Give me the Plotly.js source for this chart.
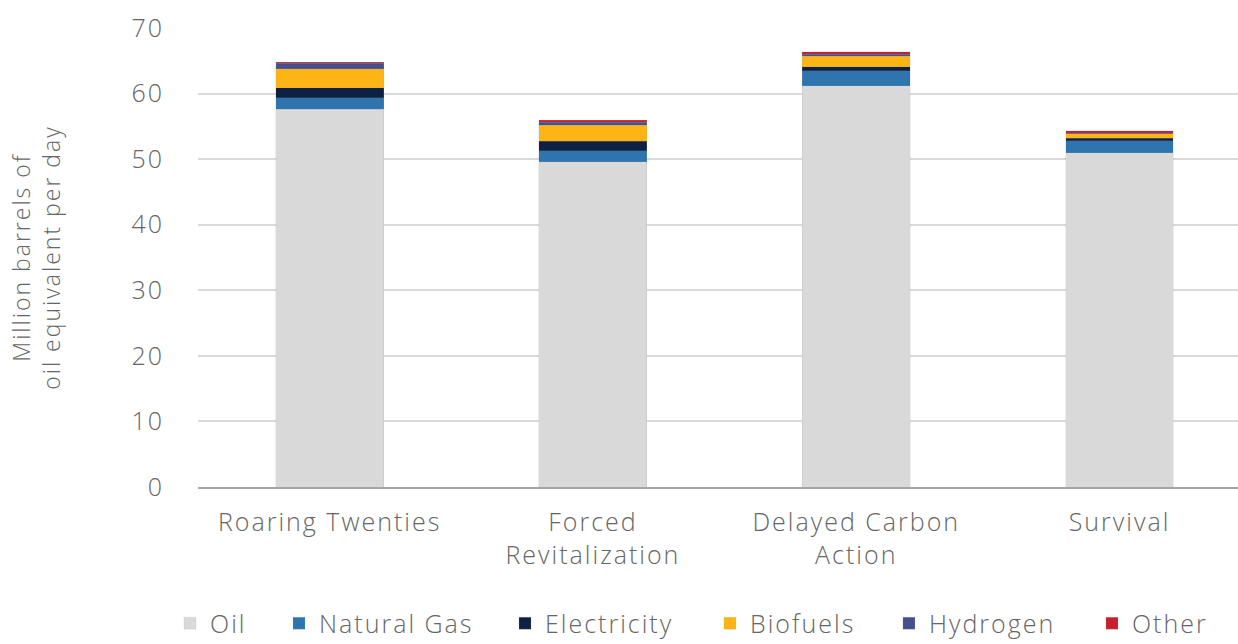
<!DOCTYPE html>
<html>
<head>
<meta charset="utf-8">
<script src="https://cdn.plot.ly/plotly-3.0.1.min.js"></script>
<style>html,body{margin:0;padding:0;background:#fff;}#chart{width:1238px;height:644px;}text{letter-spacing:2px;}</style>
</head>
<body>
<div id="chart"></div>
<script>
const categories = ["Roaring Twenties", "Forced<br>Revitalization", "Delayed Carbon<br>Action", "Survival"];
const oil = [57.6, 49.6, 61.2, 51.0];
const naturalGas = [1.8, 1.7, 2.3, 1.8];
const electricity = [1.5, 1.4, 0.6, 0.4];
const biofuels = [2.9, 2.5, 1.6, 0.7];
const hydrogen = [0.8, 0.4, 0.3, 0.05];
const other = [0.2, 0.3, 0.4, 0.35];
const seriesNames = ["Oil", "Natural Gas", "Electricity", "Biofuels", "Hydrogen", "Other"];
const yTicks = [0, 10, 20, 30, 40, 50, 60, 70];

const colors = ["#d9d9d9", "#2e75b0", "#0f2142", "#fdb515", "#454f8f", "#c8202f"];
const legendX = [-0.0269, 0.0779, 0.2952, 0.4923, 0.6644, 0.8596];
const data = [oil, naturalGas, electricity, biofuels, hydrogen, other];
const FONT = "'Open Sans', Lato, sans-serif";
const TXT = "#666666";

const traces = data.map((vals, i) => ({
  type: "bar",
  name: seriesNames[i],
  x: categories,
  y: vals,
  legend: i === 0 ? "legend" : "legend" + (i + 1),
  marker: {color: colors[i], line: {color: "rgba(160,160,160,0.35)", width: 0.5}},
  hoverinfo: "skip"
}));

const layout = {
  width: 1238, height: 644,
  barmode: "stack",
  bargap: 0.59,
  font: {family: FONT, color: TXT, size: 24, weight: 300},
  paper_bgcolor: "#fff",
  plot_bgcolor: "#fff",
  margin: {l: 198, r: 0, t: 28, b: 157, autoexpand: false},
  xaxis: {
    range: [-0.5, 3.45],
    tickfont: {family: FONT, size: 25, color: TXT, weight: 300},
    showline: true, linecolor: "#a6a6a6", linewidth: 2,
    showgrid: false, ticks: "",
    ticklabelstandoff: 12
  },
  yaxis: {
    range: [0, 70],
    tickvals: yTicks,
    tickfont: {family: FONT, size: 25, color: TXT, weight: 300},
    gridcolor: "#d9d9d9", gridwidth: 2,
    zeroline: false, showline: false, ticks: "",
    ticklabelstandoff: 33,
    title: {text: "Million barrels of<br>oil equivalent per day", font: {family: FONT, size: 23, color: TXT, weight: 300}, standoff: 64}
  },
  showlegend: true
};
legendX.forEach((lx, i) => {
  const key = i === 0 ? "legend" : "legend" + (i + 1);
  layout[key] = {
    orientation: "h", x: lx, xanchor: "left", xref: "paper",
    y: 0.032, yanchor: "middle", yref: "container",
    font: {family: FONT, size: 25, color: TXT, weight: 300},
    bgcolor: "rgba(0,0,0,0)", borderwidth: 0, itemwidth: 30
  };
});
Plotly.newPlot("chart", traces, layout, {displayModeBar: false, staticPlot: true});
</script>
</body>
</html>
